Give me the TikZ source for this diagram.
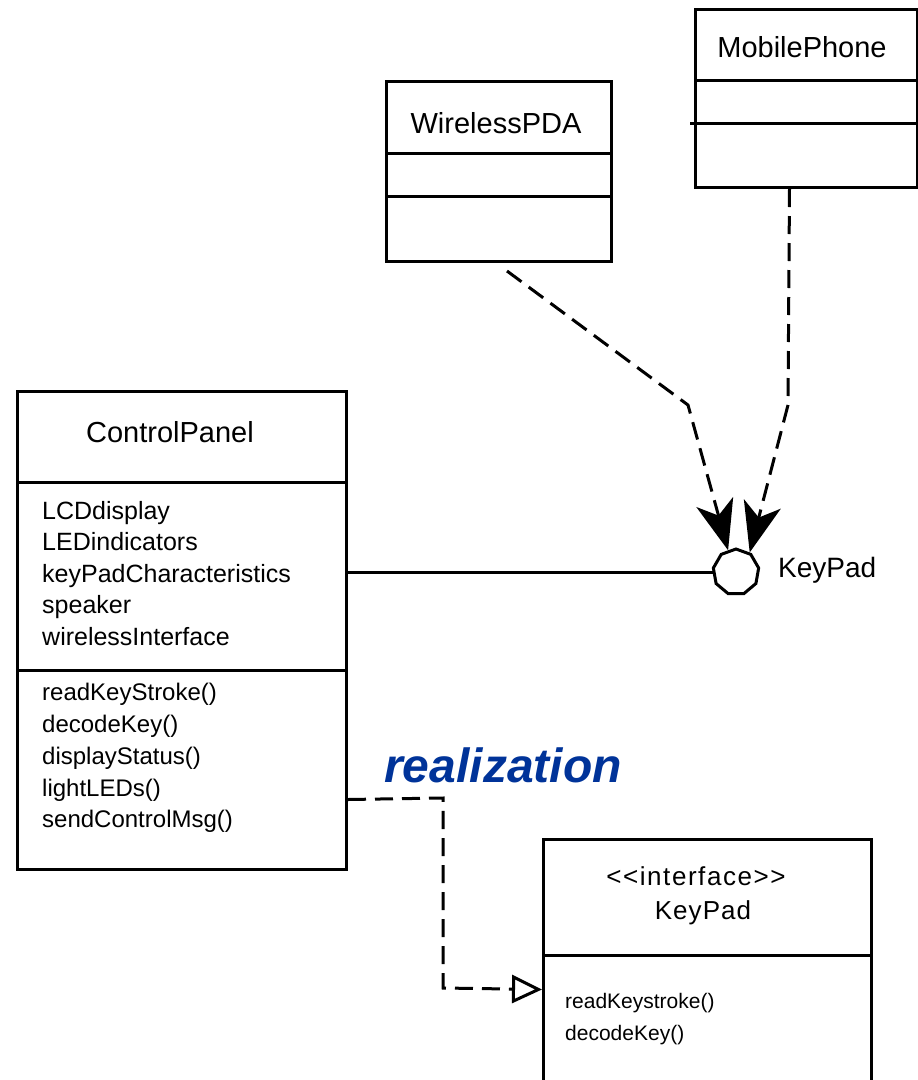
\documentclass[tikz,border=0pt]{standalone}
\usepackage{fontspec}
\setmainfont{Liberation Sans}
\usetikzlibrary{arrows.meta,shapes.geometric}
\definecolor{realblue}{RGB}{0,51,153}
\tikzset{
  classbox/.style={draw, line width=3pt, anchor=north west, inner sep=0pt},
  classname/.style={font=\fontsize{29}{34}\selectfont},
  members/.style={anchor=north west, align=left, inner sep=0pt},
  dep/.style={line width=3pt, dash pattern=on 18pt off 9pt, -{Stealth[length=50pt,width=38pt,inset=14pt]}},
  real/.style={line width=3pt, dash pattern=on 18pt off 9pt, -{Triangle[open,fill=white,length=30pt,width=28pt]}},
}
\begin{document}
\begin{tikzpicture}[x=1pt,y=-1pt]
        \useasboundingbox (0,0) rectangle (918,1080);
        \clip (0,0) rectangle (918,1080);
        % WirelessPDA class
        \node[classbox, minimum width=225pt, minimum height=180pt] (pda) at (385,80) {};
        \draw[line width=3pt] (pda.west |- 0,153) -- (pda.east |- 0,153);
        \draw[line width=3pt] (pda.west |- 0,196) -- (pda.east |- 0,196);
        \node[classname] (pdaname) at (496,123) {WirelessPDA};
        % MobilePhone class
        \node[classbox, minimum width=222pt, minimum height=178pt] (mp) at (694,8) {};
        \draw[line width=3pt] (mp.west |- 0,80) -- (mp.east |- 0,80);
        \draw[line width=3pt] (690,123) -- (mp.east |- 0,123);
        \node[classname] (mpname) at (802,47) {MobilePhone};
        % ControlPanel class
        \node[classbox, minimum width=329pt, minimum height=478pt] (cp) at (16,390) {};
        \draw[line width=3pt] (cp.west |- 0,482) -- (cp.east |- 0,482);
        \draw[line width=3pt] (cp.west |- 0,670) -- (cp.east |- 0,670);
        \node[classname] (cpname) at (170,432) {ControlPanel};
        \node[members, font=\fontsize{25}{31.5}\selectfont] (cpattr) at (42,501)
          {LCDdisplay\\LEDindicators\\keyPadCharacteristics\\speaker\\wirelessInterface};
        \node[members, font=\fontsize{24}{31.8}\selectfont] (cpops) at (42,683)
          {readKeyStroke()\\decodeKey()\\displayStatus()\\lightLEDs()\\sendControlMsg()};
        % KeyPad interface class
        \node[classbox, minimum width=328pt, minimum height=300pt] (iface) at (542,838) {};
        \draw[line width=3pt] (iface.west |- 0,955) -- (iface.east |- 0,955);
        \node[font=\fontsize{26}{30}\selectfont\addfontfeatures{LetterSpace=6}] (stereo) at (696,876) {<{}<interface>{}>};
        \node[font=\fontsize{26}{30}\selectfont\addfontfeatures{LetterSpace=4}] (ifacename) at (703,913) {KeyPad};
        \node[members, font=\fontsize{21}{32}\selectfont] (ifaceops) at (565,993)
          {readKeystroke()\\decodeKey()};
        % Provided interface (lollipop)
        \node[draw, regular polygon, regular polygon sides=9, minimum size=46pt,
          line width=3pt, inner sep=0pt] (kp) at (736,572) {};
        \node[anchor=west, inner sep=0pt, font=\fontsize{28}{32}\selectfont] (kplabel) at (778,570) {KeyPad};
        \draw[line width=3pt] (cp.east |- kp.west) -- (kp.west);
        % Dependencies on the interface
        \draw[dep] ([xshift=8pt,yshift=-8pt]pda.south) -- (688,405) -- (kp.110);
        \draw[dep] ([xshift=-17pt]mp.south) -- (788,405) -- (kp.55);
        % Realization
        \draw[real] ([yshift=-169pt]cp.east) -- (443,798) -- (443,988) -- (iface.west);
        \node[font=\fontsize{48}{54}\selectfont\bfseries\itshape, text=realblue] (reallabel) at (503,765) {realization};
\end{tikzpicture}
\end{document}
